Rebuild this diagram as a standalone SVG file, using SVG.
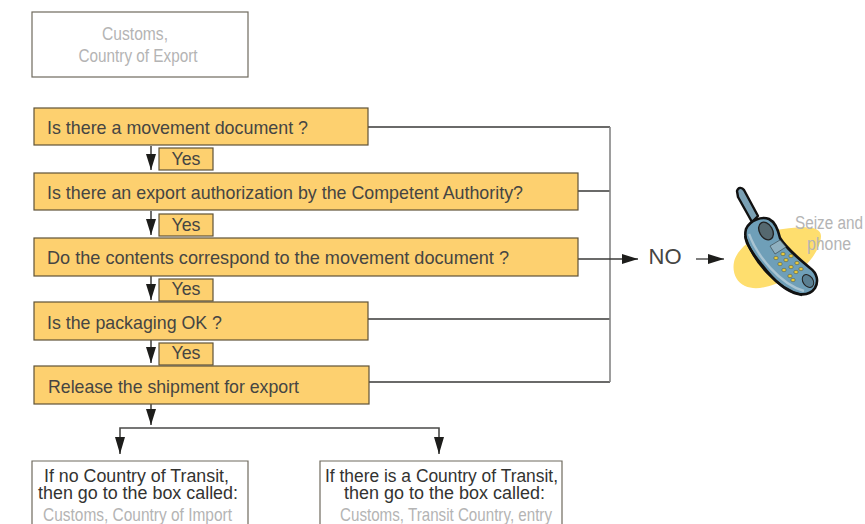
<svg xmlns="http://www.w3.org/2000/svg" width="865" height="524" viewBox="0 0 865 524">
<defs>
<marker id="ad" markerUnits="userSpaceOnUse" markerWidth="16" markerHeight="10" refX="16" refY="5" orient="auto"><path d="M0 0L16 5L0 10Z" fill="#1d1d1b"/></marker>
</defs>
<style>
text{font-family:"Liberation Sans",Arial,sans-serif;fill:#454543}
.q{fill:#fdd06f;stroke:#5f5337;stroke-width:1.2}
.w{fill:#fff;stroke:#6f6a5e;stroke-width:1.2}
.t{font-size:17.8px}
.y{font-size:17.8px;text-anchor:middle}
.g{font-size:19px;fill:#b4b4b4;text-anchor:middle}
.c{fill:none;stroke:#3a3a38;stroke-width:1.3}
.v{fill:none;stroke:#4a4a48;stroke-width:1.6}
.m{font-size:17.5px;text-anchor:middle;fill:#333331}
</style>
<g id="connectors">
<path class="c" d="M368 127H610M578 191H610M368 319H610M369 382H610"/>
<path d="M610 127V382" fill="none" stroke="#858585" stroke-width="1.6"/>
<path class="c" d="M578 259H638" marker-end="url(#ad)"/>
<path class="c" d="M696 259H724" marker-end="url(#ad)"/>
<path class="v" d="M151 146V170" marker-end="url(#ad)"/>
<path class="v" d="M151 211V235" marker-end="url(#ad)"/>
<path class="v" d="M151 276V300" marker-end="url(#ad)"/>
<path class="v" d="M151 339V363" marker-end="url(#ad)"/>
<path class="v" d="M151 404V425" marker-end="url(#ad)"/>
<path class="v" d="M120 454V428H439V454"/>
<path d="M115 437L120 454L125 437ZM434 437L439 454L444 437Z" fill="#1d1d1b"/>
</g>
<g id="n-export"><rect class="w" x="32" y="12" width="216" height="65"/><text class="g" x="135" y="40" textLength="66" lengthAdjust="spacingAndGlyphs">Customs,</text><text class="g" x="138" y="62" textLength="119" lengthAdjust="spacingAndGlyphs">Country of Export</text></g>
<g id="n-q1"><rect class="q" x="34" y="108" width="334" height="37"/><text class="t" x="47" y="134" textLength="261" lengthAdjust="spacingAndGlyphs">Is there a movement document ?</text></g>
<g id="n-y1"><rect class="q" x="159" y="148" width="54" height="22"/><text class="y" x="186" y="165">Yes</text></g>
<g id="n-q2"><rect class="q" x="34" y="173" width="544" height="37"/><text class="t" x="47" y="199" textLength="476" lengthAdjust="spacingAndGlyphs">Is there an export authorization by the Competent Authority?</text></g>
<g id="n-y2"><rect class="q" x="159" y="214" width="54" height="22"/><text class="y" x="186" y="231">Yes</text></g>
<g id="n-q3"><rect class="q" x="34" y="238" width="544" height="38"/><text class="t" x="47" y="264" textLength="462" lengthAdjust="spacingAndGlyphs">Do the contents correspond to the movement document ?</text></g>
<g id="n-y3"><rect class="q" x="159" y="279" width="54" height="22"/><text class="y" x="186" y="295">Yes</text></g>
<g id="n-q4"><rect class="q" x="34" y="302" width="334" height="38"/><text class="t" x="47" y="329" textLength="175" lengthAdjust="spacingAndGlyphs">Is the packaging OK ?</text></g>
<g id="n-y4"><rect class="q" x="159" y="343" width="54" height="22"/><text class="y" x="186" y="359">Yes</text></g>
<g id="n-q5"><rect class="q" x="34" y="366" width="335" height="38"/><text class="t" x="48" y="393" textLength="251" lengthAdjust="spacingAndGlyphs">Release the shipment for export</text></g>
<g id="n-no"><text x="665" y="264" font-size="22" text-anchor="middle">NO</text></g>
<g id="n-import"><path class="w" d="M32 524V461H248V524"/><text class="m" x="136.500" y="482" textLength="185" lengthAdjust="spacingAndGlyphs">If no Country of Transit,</text><text class="m" x="138" y="499" textLength="200" lengthAdjust="spacingAndGlyphs">then go to the box called:</text><text class="g" x="137.500" y="521" textLength="189" lengthAdjust="spacingAndGlyphs">Customs, Country of Import</text></g>
<g id="n-transit"><path class="w" d="M320 524V461H562V524"/><text class="m" x="441.500" y="482" textLength="233" lengthAdjust="spacingAndGlyphs">If there is a Country of Transit,</text><text class="m" x="444.500" y="499" textLength="201" lengthAdjust="spacingAndGlyphs">then go to the box called:</text><text class="g" x="446" y="521" textLength="212" lengthAdjust="spacingAndGlyphs">Customs, Transit Country, entry</text></g>
<g id="n-phone">
<path d="M734 262C737 248 757 232 783 229C805 226 821 226 821 236C821 248 808 268 790 277C772 287 756 291 745 286C736 282 732 272 734 262Z" fill="#fede6e"/>
<path d="M737 191C738 187 742 187 744 190L758 216L752 222L738 197Z" fill="#7aa0b4" stroke="#111" stroke-width="2.4" stroke-linejoin="round"/>
<path d="M746 229C750 220 762 216 769 219C775 222 778 229 780 238C786 248 798 258 810 268C817 273 819 281 815 288C811 294 804 295 798 294C786 292 772 278 762 265C755 257 750 249 747 243C745 238 745 233 746 229Z" fill="#6f9fb8" stroke="#111" stroke-width="2.6" stroke-linejoin="round"/>
<path d="M749 234C757 256 780 284 804 291" fill="none" stroke="#a9c4d2" stroke-width="2.4"/>
<path d="M745 236C752 260 778 290 802 295" fill="none" stroke="#111" stroke-width="2.4"/>
<ellipse cx="766" cy="231" rx="6.500" ry="9.500" transform="rotate(-30 766 231)" fill="#55686f" stroke="#222" stroke-width="1.4"/>
<path d="M770 246L780 240L786 247L775 254Z" fill="#8fb0c0" stroke="#3c4d55" stroke-width=".7"/>
<g fill="#e8c93a" stroke="#40504a" stroke-width=".5"><ellipse cx="776" cy="258" rx="2.200" ry="1.700"/><ellipse cx="783" cy="254" rx="2.200" ry="1.700"/><ellipse cx="780" cy="264" rx="2.200" ry="1.700"/><ellipse cx="786" cy="260" rx="2.200" ry="1.700"/><ellipse cx="791" cy="256" rx="2.200" ry="1.700"/><ellipse cx="784" cy="270" rx="2.200" ry="1.700"/><ellipse cx="791" cy="267" rx="2.200" ry="1.700"/><ellipse cx="797" cy="263" rx="2.200" ry="1.700"/><ellipse cx="790" cy="276" rx="2.200" ry="1.700"/><ellipse cx="796" cy="272" rx="2.200" ry="1.700"/><ellipse cx="801" cy="269" rx="2.200" ry="1.700"/><ellipse cx="793" cy="280" rx="2.200" ry="1.700"/></g>
<ellipse cx="808" cy="281" rx="5" ry="7" transform="rotate(-35 808 281)" fill="#5a7f92" stroke="#222" stroke-width="1"/>
<text class="g" x="829" y="229" style="font-size:18px" textLength="68" lengthAdjust="spacingAndGlyphs">Seize and</text><text class="g" x="829" y="250" style="font-size:18px" textLength="44" lengthAdjust="spacingAndGlyphs">phone</text>
</g>
</svg>
